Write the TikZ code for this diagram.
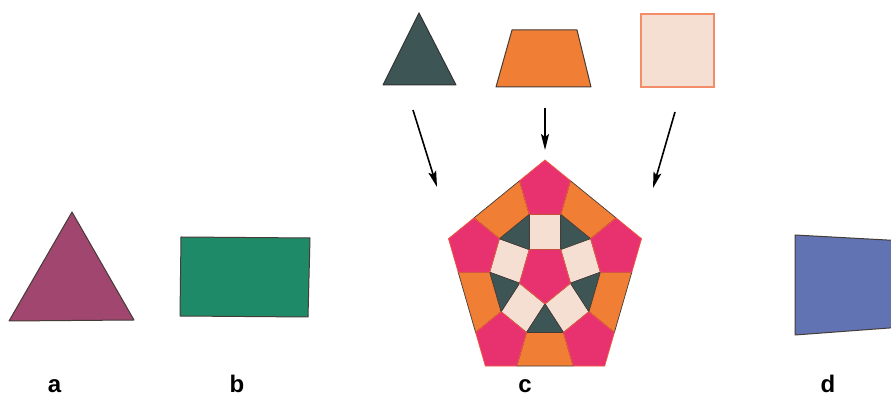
\documentclass[tikz,border=0pt]{standalone}
\usepackage{fontspec}
\setsansfont{Liberation Sans}
\usetikzlibrary{arrows.meta,calc}
\definecolor{cpink}{RGB}{232,49,111}
\definecolor{cpinkline}{RGB}{240,90,60}
\definecolor{corange}{RGB}{240,127,53}
\definecolor{clight}{RGB}{244,223,210}
\definecolor{clightline}{RGB}{242,140,105}
\definecolor{cdark}{RGB}{62,85,86}
\definecolor{cmag}{RGB}{160,70,111}
\definecolor{cgreen}{RGB}{30,138,104}
\definecolor{cblue}{RGB}{98,115,180}
\definecolor{cedge}{RGB}{70,60,55}
\begin{document}
\begin{tikzpicture}[x=1pt,y=1pt,
  tile/.style={line width=0.7pt, line join=round},
  pentile/.style={tile, fill=cpink, draw=cpinkline},
  sqtile/.style={tile, fill=clight, draw=cedge},
  tritile/.style={tile, fill=cdark, draw=cedge},
  traptile/.style={tile, fill=corange, draw=cedge},
  shapeline/.style={line width=1pt, line join=round, draw=cedge},
  arr/.style={line width=1.6pt, -{Stealth[length=16pt,width=8pt,inset=3pt]}},
  lbl/.style={font=\sffamily\bfseries\fontsize{24}{24}\selectfont, anchor=base, inner sep=0pt}]
\useasboundingbox (0,0) rectangle (891,398);
\clip (0,0) rectangle (891,398);
\fill[white] (0,0) rectangle (891,398);

% shape a
\filldraw[shapeline, fill=cmag] (72,186) -- (134,78) -- (9,77) -- cycle;
% shape b
\filldraw[shapeline, fill=cgreen] (181,161) -- (310,160) -- (308,81) -- (180,82) -- cycle;
% shape d
\filldraw[shapeline, fill=cblue] (795,163) -- (896,157.5) -- (896,70.5) -- (795,63) -- cycle;

% top shapes
\filldraw[line width=1pt, line join=round, draw=black!80, fill=cdark] (419,385) -- (456,313) -- (383,313) -- cycle;
\filldraw[shapeline, fill=corange] (512,368) -- (577,368) -- (591,311) -- (496,311) -- cycle;
\filldraw[line width=1.5pt, draw=clightline, fill=clight] (641,311) rectangle (714,384);

% tiling
\begin{scope}[shift={(545,124.1)}, scale=35.3, xscale=0.891]
  \foreach \k in {0,...,4}{
    \begin{scope}[rotate=72*\k]
      \filldraw[sqtile] (-0.5,0.68819) -- (0.5,0.68819) -- (0.5,1.68819) -- (-0.5,1.68819) -- cycle;
      \filldraw[tritile] (0.5,0.68819) -- (0.5,1.68819) -- (1.45106,0.99721) -- cycle;
      \filldraw[traptile] (0.5,1.68819) -- (1.45106,0.99721) -- (2.26008,1.58499) -- (0.80902,2.63925) -- cycle;
    \end{scope}}
  \foreach \k in {0,...,4}{
    \begin{scope}[rotate=72*\k]
      \filldraw[pentile] (-0.5,1.68819) -- (0.5,1.68819) -- (0.80902,2.63925) -- (0,3.22705) -- (-0.80902,2.63925) -- cycle;
    \end{scope}}
  \filldraw[pentile] (270:0.85065) -- (342:0.85065) -- (54:0.85065) -- (126:0.85065) -- (198:0.85065) -- cycle;
\end{scope}

% arrows
\coordinate (t1) at (413,288); \coordinate (h1) at (437,211);
\coordinate (t2) at (545,290); \coordinate (h2) at (545,248);
\coordinate (t3) at (675,286); \coordinate (h3) at (653,210);
\draw[arr] (t1) -- (h1);
\draw[arr] (t2) -- (h2);
\draw[arr] (t3) -- (h3);

% labels
\node[lbl] (la) at (54.5,5) {a};
\node[lbl] (lb) at (237,5) {b};
\node[lbl] (lc) at (525,5) {c};
\node[lbl] (ld) at (828,5) {d};
\end{tikzpicture}
\end{document}
